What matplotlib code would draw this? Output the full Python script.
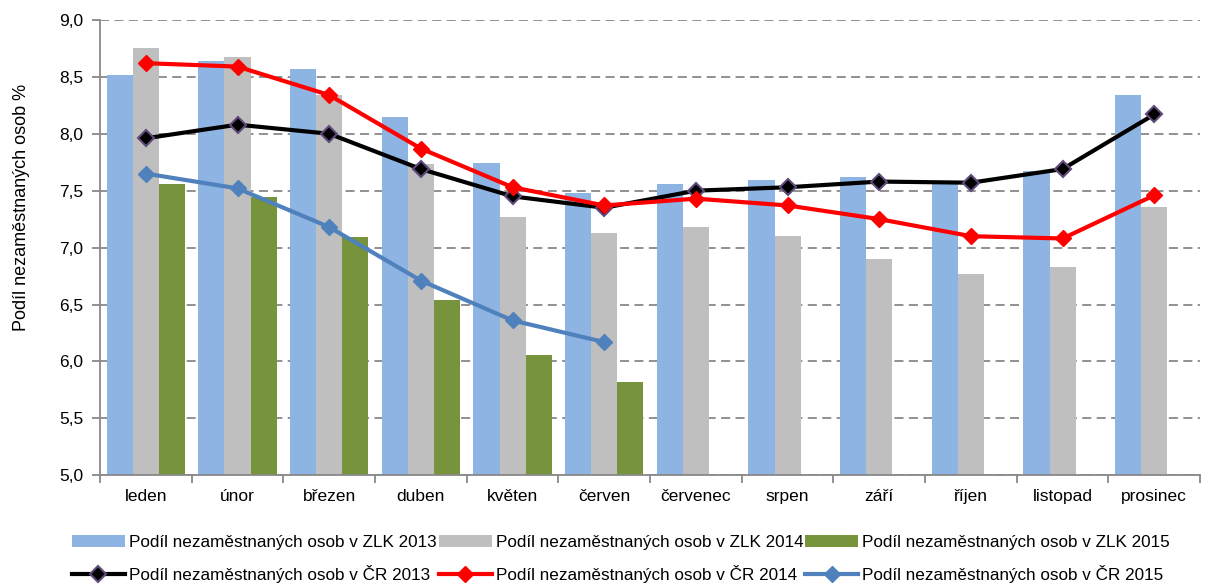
import matplotlib
matplotlib.use("Agg")
import matplotlib.pyplot as plt
import numpy as np

plt.rcParams['font.family'] = ['Liberation Sans', 'DejaVu Sans']

months = ["leden", "únor", "březen", "duben", "květen", "červen", "červenec",
          "srpen", "září", "říjen", "listopad", "prosinec"]
zlk2013 = [8.52, 8.64, 8.57, 8.15, 7.74, 7.48, 7.56, 7.59, 7.62, 7.57, 7.67, 8.34]
zlk2014 = [8.75, 8.67, 8.34, 7.73, 7.27, 7.13, 7.18, 7.10, 6.90, 6.77, 6.83, 7.36]
zlk2015 = [7.56, 7.44, 7.09, 6.54, 6.06, 5.82]
cr2013 = [7.96, 8.08, 8.00, 7.69, 7.45, 7.35, 7.50, 7.53, 7.58, 7.57, 7.69, 8.17]
cr2014 = [8.62, 8.59, 8.34, 7.87, 7.53, 7.37, 7.43, 7.37, 7.25, 7.10, 7.08, 7.46]
cr2015 = [7.65, 7.52, 7.18, 6.71, 6.36, 6.17]

labels_bar = ["Podíl nezaměstnaných osob v ZLK 2013",
              "Podíl nezaměstnaných osob v ZLK 2014",
              "Podíl nezaměstnaných osob v ZLK 2015"]
labels_line = ["Podíl nezaměstnaných osob v ČR 2013",
               "Podíl nezaměstnaných osob v ČR 2014",
               "Podíl nezaměstnaných osob v ČR 2015"]

fig = plt.figure(figsize=(12.05, 5.86), dpi=100)
ax = fig.add_axes([0.083, 0.189, 0.913, 0.777])

x = np.arange(len(months))
w = 0.285
b1 = ax.bar(x - w, np.array(zlk2013) - 5, w, bottom=5, color="#8EB4E3", zorder=2)
b2 = ax.bar(x, np.array(zlk2014) - 5, w, bottom=5, color="#BFBFBF", zorder=2)
x15 = np.arange(len(zlk2015))
b3 = ax.bar(x15 + w, np.array(zlk2015) - 5, w, bottom=5, color="#77933C", zorder=2)

l1, = ax.plot(x, cr2013, color="black", lw=3, marker="D", ms=8,
              markerfacecolor="black", markeredgecolor="#604A7B", markeredgewidth=1.5, zorder=4)
l2, = ax.plot(x, cr2014, color="#FF0000", lw=3, marker="D", ms=8.5,
              markerfacecolor="#FF0000", markeredgecolor="#FF0000", zorder=5)
x15l = np.arange(len(cr2015))
l3, = ax.plot(x15l, cr2015, color="#4F81BD", lw=3, marker="D", ms=8.5,
              markerfacecolor="#4F81BD", markeredgecolor="#4F81BD", zorder=4)

ax.set_xlim(-0.5, len(months) - 0.5)
ax.set_ylim(5.0, 9.0)
yt = np.arange(5.0, 9.01, 0.5)
ax.set_yticks(yt)
ax.set_yticklabels([f"{v:.1f}".replace(".", ",") for v in yt], fontsize=12.5)
ax.yaxis.grid(True, linestyle=(0, (5, 3)), color="#888888", lw=1.3, zorder=0)
ax.set_axisbelow(True)

ax.set_xticks(x)
ax.set_xticklabels(months, fontsize=12.5)
ax.tick_params(axis='x', length=0, pad=10)
ax.set_xticks(np.arange(-0.5, len(months), 1), minor=True)
ax.tick_params(axis='x', which='minor', length=6, color="#888888", width=1.3, direction='out')
ax.tick_params(axis='y', length=6, color="#888888", width=1.3, direction='out', pad=6)

for s in ["top", "right"]:
    ax.spines[s].set_visible(False)
for s in ["left", "bottom"]:
    ax.spines[s].set_color("#888888")
    ax.spines[s].set_linewidth(1.3)

ax.set_ylabel("Podíl nezaměstnaných osob %", fontsize=13)
ax.yaxis.set_label_coords(-0.064, 0.589)

handles = [b1, l1, b2, l2, b3, l3]
labels = [labels_bar[0], labels_line[0], labels_bar[1], labels_line[1],
          labels_bar[2], labels_line[2]]
leg = fig.legend(handles, labels, loc="upper left", bbox_to_anchor=(72 / 1205, 1 - 535 / 586),
                 ncol=3, frameon=False, fontsize=12.3, handlelength=3.1, handletextpad=0.25,
                 columnspacing=0.1, labelspacing=0.85, borderpad=0, borderaxespad=0)

fig.savefig("out.png", dpi=100)
